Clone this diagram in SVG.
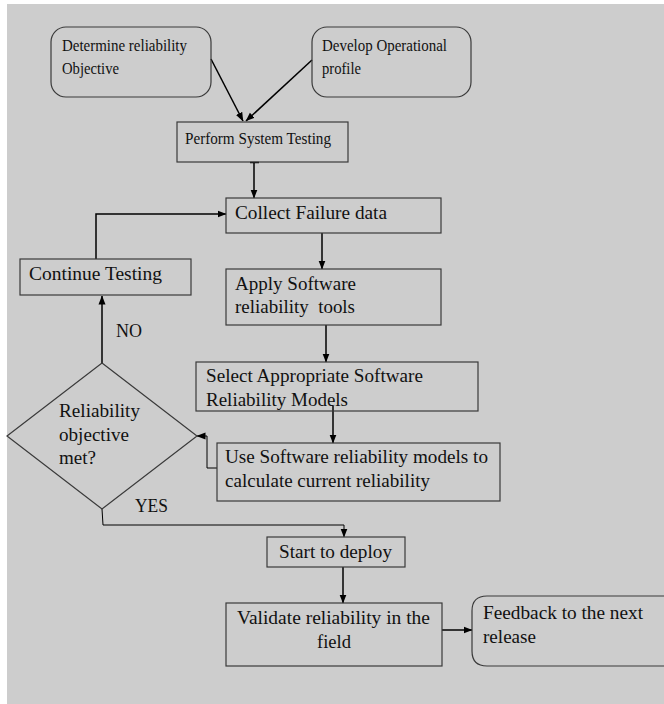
<svg xmlns="http://www.w3.org/2000/svg" width="664" height="704" viewBox="0 0 664 704">
<defs>
<marker id="ah" markerWidth="9" markerHeight="8" refX="8.5" refY="4" orient="auto" markerUnits="userSpaceOnUse">
<path d="M0,0.5 L9,4 L0,7.5 z" fill="#000"/>
</marker>
<style>
.box{fill:none;stroke:#3a3a3a;stroke-width:1.2}
.t{font-family:"Liberation Serif","Times New Roman",serif;font-size:19px;fill:#111}
.s{font-size:17.5px}
.c{fill:none;stroke:#000;stroke-width:1.5}
.c1{fill:none;stroke:#000;stroke-width:1}
</style>
</defs>
<rect x="0" y="0" width="664" height="704" fill="#fff"/>
<rect x="7" y="4" width="657" height="700" fill="#cdcdcd"/>

<g id="connectors">
<line class="c" x1="211" y1="59" x2="243" y2="121" marker-end="url(#ah)"/>
<line class="c" x1="312" y1="60" x2="246" y2="121" marker-end="url(#ah)"/>
<line class="c" x1="250" y1="162.5" x2="259" y2="162.5"/>
<line class="c" x1="254" y1="162" x2="254" y2="198" marker-end="url(#ah)"/>
<polyline class="c" points="96,259 96,214 226,214" marker-end="url(#ah)"/>
<line class="c" x1="322" y1="233" x2="322" y2="269" marker-end="url(#ah)"/>
<line class="c" x1="326" y1="325" x2="326" y2="362" marker-end="url(#ah)"/>
<line class="c" x1="333" y1="406" x2="333" y2="443" marker-end="url(#ah)"/>
<polyline class="c1" points="217,468 207,468 207,436 197,436" marker-end="url(#ah)"/>
<line class="c" x1="102" y1="363" x2="102" y2="296" marker-end="url(#ah)"/>
<polyline class="c1" points="102,509 103,525 344,525 344,537" marker-end="url(#ah)"/>
<line class="c" x1="343" y1="567" x2="343" y2="603" marker-end="url(#ah)"/>
<line class="c" x1="442" y1="630" x2="472" y2="630" marker-end="url(#ah)"/>
</g>

<g id="determine">
<rect class="box" x="51" y="27" width="160" height="70" rx="15"/>
<text class="t s" x="62" y="51" textLength="125" lengthAdjust="spacingAndGlyphs">Determine reliability</text>
<text class="t s" x="62" y="74" textLength="57" lengthAdjust="spacingAndGlyphs">Objective</text>
</g>
<g id="develop">
<rect class="box" x="312" y="27" width="159" height="70" rx="15"/>
<text class="t s" x="322" y="51" textLength="125" lengthAdjust="spacingAndGlyphs">Develop Operational</text>
<text class="t s" x="322" y="74" textLength="39" lengthAdjust="spacingAndGlyphs">profile</text>
</g>
<g id="perform">
<rect class="box" x="177" y="122" width="171" height="40"/>
<text class="t s" x="185" y="144" textLength="146" lengthAdjust="spacingAndGlyphs">Perform System Testing</text>
</g>
<g id="collect">
<rect class="box" x="226" y="198" width="215" height="35"/>
<text class="t" x="235" y="219" textLength="152" lengthAdjust="spacingAndGlyphs">Collect Failure data</text>
</g>
<g id="continue">
<rect class="box" x="20" y="259" width="171" height="36"/>
<text class="t" x="29" y="280" textLength="133" lengthAdjust="spacingAndGlyphs">Continue Testing</text>
</g>
<g id="apply">
<rect class="box" x="226" y="269" width="215" height="56"/>
<text class="t" x="235" y="290" textLength="121" lengthAdjust="spacingAndGlyphs">Apply Software</text>
<text class="t" x="235" y="313" textLength="120" lengthAdjust="spacingAndGlyphs" xml:space="preserve">reliability  tools</text>
</g>
<g id="select">
<rect class="box" x="196" y="362" width="282" height="49"/>
<text class="t" x="206" y="382" textLength="217" lengthAdjust="spacingAndGlyphs">Select Appropriate Software</text>
<text class="t" x="206" y="406" textLength="142" lengthAdjust="spacingAndGlyphs">Reliability Models</text>
</g>
<g id="decision">
<polygon class="box" points="102,363 197,436 102,509 7,436"/>
<text class="t" x="59" y="417" textLength="81" lengthAdjust="spacingAndGlyphs">Reliability</text>
<text class="t" x="59" y="441" textLength="70" lengthAdjust="spacingAndGlyphs">objective</text>
<text class="t" x="59" y="464" textLength="37" lengthAdjust="spacingAndGlyphs">met?</text>
</g>
<g id="use">
<rect class="box" x="217" y="443" width="283" height="58"/>
<text class="t" x="225" y="463" textLength="263" lengthAdjust="spacingAndGlyphs">Use Software reliability models to</text>
<text class="t" x="225" y="487" textLength="205" lengthAdjust="spacingAndGlyphs">calculate current reliability</text>
</g>
<g id="labels">
<text class="t" x="116" y="337" textLength="26" lengthAdjust="spacingAndGlyphs">NO</text>
<text class="t" x="135" y="512" textLength="33" lengthAdjust="spacingAndGlyphs">YES</text>
</g>
<g id="deploy">
<rect class="box" x="267" y="537" width="138" height="30"/>
<text class="t" x="279" y="558" textLength="113" lengthAdjust="spacingAndGlyphs">Start to deploy</text>
</g>
<g id="validate">
<rect class="box" x="226" y="603" width="216" height="63"/>
<text class="t" x="237" y="624" textLength="193" lengthAdjust="spacingAndGlyphs">Validate reliability in the</text>
<text class="t" x="317" y="648" textLength="34" lengthAdjust="spacingAndGlyphs">field</text>
</g>
<g id="feedback">
<path class="box" d="M670,596 L487,596 Q472,596 472,611 L472,651 Q472,666 487,666 L670,666"/>
<text class="t" x="483" y="619" textLength="160" lengthAdjust="spacingAndGlyphs">Feedback to the next</text>
<text class="t" x="483" y="643" textLength="53" lengthAdjust="spacingAndGlyphs">release</text>
</g>
</svg>
